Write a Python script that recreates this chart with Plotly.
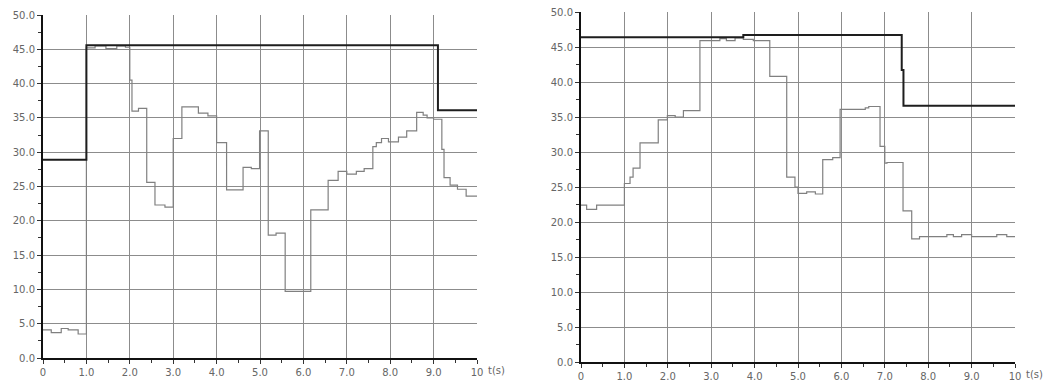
import plotly.graph_objects as go

# ---- data (left panel) ----
left_set_t = [0, 1.0, 9.1, 10.0]
left_set_v = [28.9, 45.6, 36.1, 36.1]

left_pv_t = [0, 0.19, 0.42, 0.58, 0.81, 1.0, 1.2, 1.45, 1.7, 1.9, 2.0, 2.05, 2.2, 2.39, 2.58, 2.81,
             3.0, 3.2, 3.58, 3.8, 4.0, 4.23, 4.61, 4.8, 4.99, 5.19, 5.37, 5.58, 6.17, 6.57, 6.8,
             7.0, 7.22, 7.4, 7.6, 7.68, 7.8, 7.96, 8.19, 8.38, 8.61, 8.76, 8.85, 9.0, 9.19, 9.24,
             9.38, 9.55, 9.75, 10.0]
left_pv_v = [4.1, 3.7, 4.3, 4.1, 3.5, 45.2, 45.5, 45.1, 45.5, 45.3, 40.5, 36.0, 36.4, 25.6, 22.3, 22.0,
             32.0, 36.6, 35.7, 35.3, 31.4, 24.5, 27.8, 27.6, 33.1, 17.9, 18.2, 9.7, 21.6, 25.9, 27.2,
             26.8, 27.2, 27.6, 30.8, 31.4, 32.0, 31.5, 32.2, 33.1, 35.8, 35.4, 35.0, 34.8, 30.4, 26.3,
             25.2, 24.6, 23.6, 23.6]

# ---- data (right panel) ----
right_set_t = [0, 3.74, 7.39, 7.43, 10.0]
right_set_v = [46.4, 46.7, 41.7, 36.6, 36.6]

right_pv_t = [0, 0.13, 0.36, 1.0, 1.13, 1.2, 1.36, 1.78, 1.99, 2.17, 2.36, 2.74, 3.2, 3.35, 3.55,
              3.74, 3.97, 4.35, 4.74, 4.93, 5.0, 5.2, 5.4, 5.57, 5.8, 5.97, 6.55, 6.63, 6.89, 7.0,
              7.05, 7.42, 7.62, 7.8, 8.43, 8.58, 8.77, 9.0, 9.58, 9.81, 10.0]
right_pv_v = [22.4, 21.8, 22.4, 25.5, 26.4, 27.7, 31.3, 34.6, 35.2, 35.0, 35.9, 45.9, 46.2, 45.9, 46.3,
              46.1, 45.9, 40.8, 26.4, 25.0, 24.1, 24.3, 24.0, 28.9, 29.2, 36.1, 36.3, 36.5, 30.8, 28.4,
              28.5, 21.6, 17.6, 17.9, 18.2, 17.9, 18.2, 17.9, 18.2, 17.9, 17.9]

x_tickvals = [0, 1, 2, 3, 4, 5, 6, 7, 8, 9, 10]
x_ticktext = ["0", "1.0", "2.0", "3.0", "4.0", "5.0", "6.0", "7.0", "8.0", "9.0", "10"]
y_tickvals = [0, 5, 10, 15, 20, 25, 30, 35, 40, 45, 50]
y_ticktext = ["0.0", "5.0", "10.0", "15.0", "20.0", "25.0", "30.0", "35.0", "40.0", "45.0", "50.0"]

PV_COLOR = "#808080"
SP_COLOR = "#1e1e1e"
GRID = "#8c8c8c"
FONT = dict(family="DejaVu Sans", size=10, color="#666666")

fig = go.Figure()
fig.add_trace(go.Scatter(x=left_pv_t, y=left_pv_v, mode="lines", line=dict(shape="hv", color=PV_COLOR, width=1.2),
                         xaxis="x", yaxis="y", showlegend=False))
fig.add_trace(go.Scatter(x=left_set_t, y=left_set_v, mode="lines", line=dict(shape="hv", color=SP_COLOR, width=2),
                         xaxis="x", yaxis="y", showlegend=False))
fig.add_trace(go.Scatter(x=right_pv_t, y=right_pv_v, mode="lines", line=dict(shape="hv", color=PV_COLOR, width=1.2),
                         xaxis="x2", yaxis="y2", showlegend=False))
fig.add_trace(go.Scatter(x=right_set_t, y=right_set_v, mode="lines", line=dict(shape="hv", color=SP_COLOR, width=2),
                         xaxis="x2", yaxis="y2", showlegend=False))

W, H = 1043, 381


def xax(dom, anchor):
    return dict(domain=dom, anchor=anchor, range=[0, 10], tickmode="array", tickvals=x_tickvals,
                ticktext=x_ticktext, showgrid=True, gridcolor=GRID, gridwidth=1, zeroline=False,
                showline=True, linecolor="#111111", linewidth=2, ticks="outside", ticklen=4,
                tickcolor="#333333", tickfont=FONT, automargin=False,
                minor=dict(dtick=0.5, tick0=0, ticks="outside", ticklen=3, tickcolor="#333333", showgrid=False))


def yax(dom, anchor):
    return dict(domain=dom, anchor=anchor, range=[0, 50], tickmode="array", tickvals=y_tickvals,
                ticktext=y_ticktext, showgrid=True, gridcolor=GRID, gridwidth=1, zeroline=False,
                showline=True, linecolor="#111111", linewidth=2, ticks="outside", ticklen=4,
                tickcolor="#333333", tickfont=FONT, automargin=False,
                minor=dict(dtick=2.5, tick0=0, ticks="outside", ticklen=3, tickcolor="#333333", showgrid=False))


fig.update_layout(
    width=W, height=H,
    margin=dict(l=0, r=0, t=0, b=0),
    paper_bgcolor="white", plot_bgcolor="white",
    xaxis=xax([43 / W, 477 / W], "y"),
    yaxis=yax([1 - 358 / H, 1 - 15 / H], "x"),
    xaxis2=xax([581 / W, 1015 / W], "y2"),
    yaxis2=yax([1 - 362 / H, 1 - 12 / H], "x2"),
    annotations=[
        dict(text="t(s)", x=10, y=0, xref="x", yref="y", showarrow=False, xanchor="left", yanchor="top",
             xshift=9, yshift=-5, font=FONT),
        dict(text="t(s)", x=10, y=0, xref="x2", yref="y2", showarrow=False, xanchor="left", yanchor="top",
             xshift=9, yshift=-5, font=FONT),
    ],
)

fig.write_html("out.html", config={"responsive": False, "displayModeBar": False},
               post_script="document.body.style.margin='0';document.body.style.overflow='hidden';")
